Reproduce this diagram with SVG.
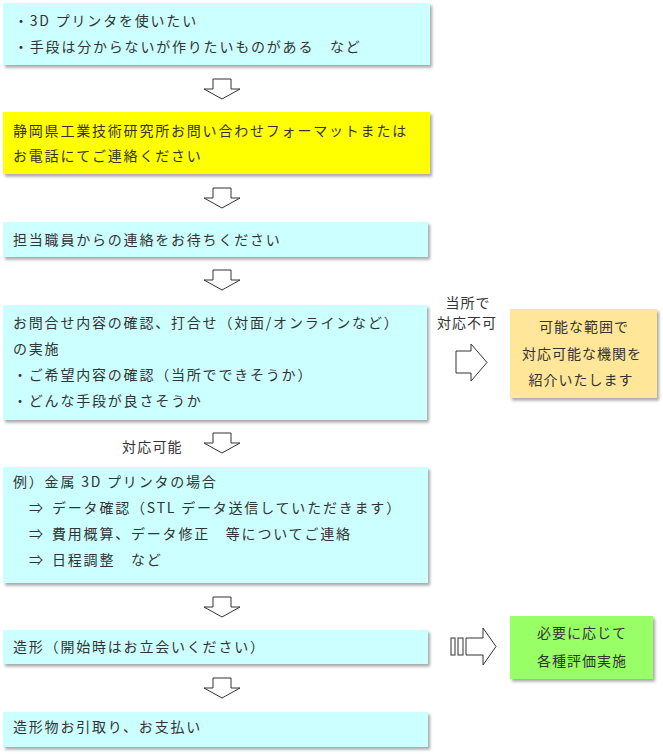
<svg xmlns="http://www.w3.org/2000/svg" width="663" height="754" viewBox="0 0 663 754">
<defs>
<filter id="sh" x="-5%" y="-10%" width="115%" height="130%">
<feDropShadow dx="2" dy="2.5" stdDeviation="1.4" flood-color="#000" flood-opacity="0.35"/>
</filter>
<path id="down" d="M213,0 H231 V10 H240 L222,20 L204,10 H213 Z"/>
</defs>
<style>
text{font-family:"Noto Sans CJK JP","Noto Sans",sans-serif;font-size:14px;fill:#333;letter-spacing:1.8px}
.c{text-anchor:middle;letter-spacing:1px}
.cyan{fill:#CCFFFF}
.ar{fill:#fff;stroke:#333;stroke-width:1}
</style>
<rect width="663" height="754" fill="#fff"/>

<g id="n1">
<rect class="cyan" x="3" y="3" width="427" height="62" filter="url(#sh)"/>
<text x="14" y="26">・3D プリンタを使いたい</text>
<text x="14" y="52">・手段は分からないが作りたいものがある　など</text>
</g>

<g id="n2">
<rect x="3" y="112" width="427" height="62" fill="#FFFF00" filter="url(#sh)"/>
<text x="13" y="136">静岡県工業技術研究所お問い合わせフォーマットまたは</text>
<text x="13" y="161">お電話にてご連絡ください</text>
</g>

<g id="n3">
<rect class="cyan" x="3" y="222" width="425" height="35" filter="url(#sh)"/>
<text x="13" y="245">担当職員からの連絡をお待ちください</text>
</g>

<g id="n4">
<rect class="cyan" x="3" y="305" width="424" height="115" filter="url(#sh)"/>
<text x="13" y="328">お問合せ内容の確認、打合せ（対面/オンラインなど）</text>
<text x="13" y="354">の実施</text>
<text x="13" y="380">・ご希望内容の確認（当所でできそうか）</text>
<text x="13" y="406">・どんな手段が良さそうか</text>
</g>

<g id="n5">
<rect class="cyan" x="3" y="467" width="425" height="116" filter="url(#sh)"/>
<text x="13" y="487">例）金属 3D プリンタの場合</text>
<text x="29" y="513">⇒</text><text x="52" y="513">データ確認（STL データ送信していただきます）</text>
<text x="29" y="539">⇒</text><text x="52" y="539">費用概算、データ修正　等についてご連絡</text>
<text x="29" y="565">⇒</text><text x="52" y="565">日程調整　など</text>
</g>

<g id="n6">
<rect class="cyan" x="3" y="630" width="425" height="34" filter="url(#sh)"/>
<text x="13" y="652">造形（開始時はお立会いください）</text>
</g>

<g id="n7">
<rect class="cyan" x="3" y="712" width="425" height="35" filter="url(#sh)"/>
<text x="13" y="732">造形物お引取り、お支払い</text>
</g>

<g id="n8">
<rect x="510" y="309" width="147" height="89" fill="#FFE699" filter="url(#sh)"/>
<text class="c" x="584" y="332">可能な範囲で</text>
<text class="c" x="582" y="359">対応可能な機関を</text>
<text class="c" x="581" y="385">紹介いたします</text>
</g>

<g id="n9">
<rect x="510" y="616" width="143" height="63" fill="#99FF66" filter="url(#sh)"/>
<text class="c" x="582" y="638">必要に応じて</text>
<text class="c" x="582" y="666">各種評価実施</text>
</g>

<g id="connectors">
<use href="#down" class="ar" y="79"/>
<use href="#down" class="ar" y="188"/>
<use href="#down" class="ar" y="270"/>
<use href="#down" class="ar" y="433"/>
<use href="#down" class="ar" y="597"/>
<use href="#down" class="ar" y="678"/>
<text x="122" y="452" style="letter-spacing:1.2px">対応可能</text>
<text class="c" x="468" y="308">当所で</text>
<text class="c" x="467" y="328">対応不可</text>
<path class="ar" d="M456,351 H471 V344 L487,362.5 L471,381 V373 H456 Z"/>
<rect class="ar" x="451" y="638" width="4" height="17"/>
<rect class="ar" x="458" y="638" width="5" height="17"/>
<path class="ar" d="M466,638 H483 V628 L496,646.5 L483,665 V655 H466 Z"/>
</g>
</svg>
